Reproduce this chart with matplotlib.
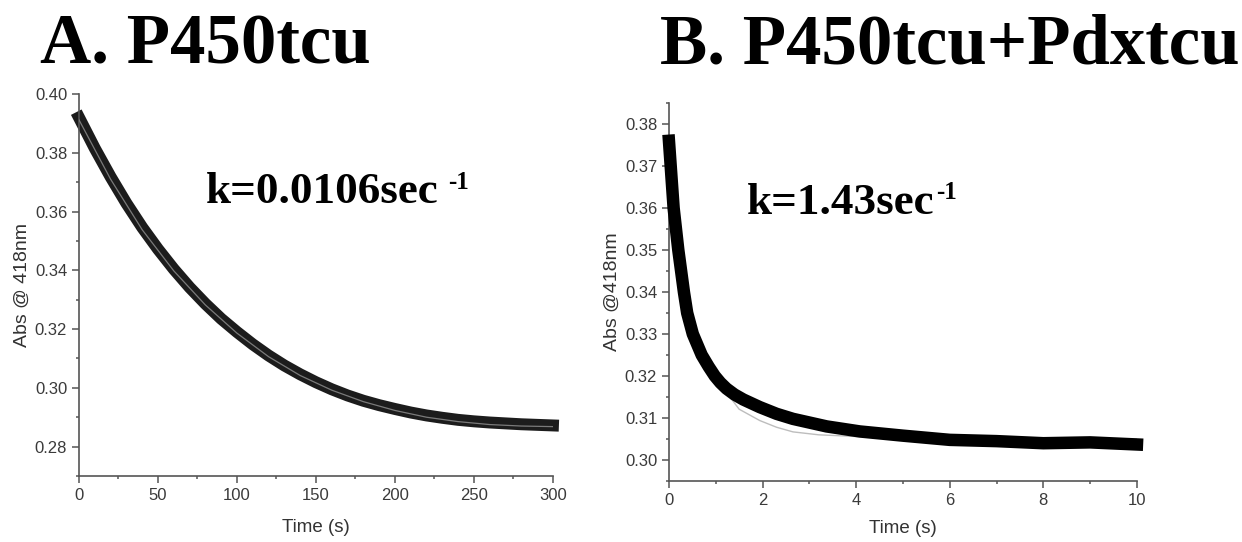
import matplotlib
matplotlib.use("Agg")
import matplotlib.pyplot as plt
from matplotlib.ticker import MultipleLocator, FormatStrFormatter

# panel A: P450tcu alone (band centre and fit line)
time_a = [0, 10, 20, 30, 40, 50, 60, 70, 80, 90, 100, 110, 120, 130, 140, 150,
          160, 170, 180, 190, 200, 210, 220, 230, 240, 250, 260, 270, 280, 290, 300]
abs_a = [0.3920, 0.3815, 0.3718, 0.3628, 0.3546, 0.3472, 0.3404, 0.3342, 0.3286,
         0.3235, 0.3190, 0.3148, 0.3110, 0.3076, 0.3046, 0.3019, 0.2995, 0.2974,
         0.2956, 0.2941, 0.2928, 0.2916, 0.2906, 0.2898, 0.2891, 0.2886, 0.2882,
         0.2879, 0.2876, 0.2874, 0.2872]
fit_time_a = [0, 20, 40, 60, 80, 100, 120, 140, 160, 180, 200, 220, 240, 260, 280, 300]
fit_abs_a = [0.3912, 0.3710, 0.3538, 0.3398, 0.3282, 0.3186, 0.3106, 0.3042, 0.2992,
             0.2953, 0.2923, 0.2900, 0.2885, 0.2875, 0.2870, 0.2868]

# panel B: P450tcu + Pdxtcu
time_b = [0, 0.05, 0.1, 0.15, 0.2, 0.26, 0.32, 0.39, 0.51, 0.7, 0.85, 0.98, 1.1,
          1.23, 1.4, 1.59, 1.94, 2.3, 2.65, 3.37, 4.08, 5, 6, 7, 8, 9, 10]
abs_b = [0.3760, 0.3680, 0.3600, 0.3550, 0.3500, 0.3450, 0.3400, 0.3350, 0.3300,
         0.3250, 0.3222, 0.3200, 0.3184, 0.3170, 0.3156, 0.3144, 0.3126, 0.3110,
         0.3098, 0.3080, 0.3068, 0.3058, 0.3048, 0.3045, 0.3040, 0.3042, 0.3037]
fit_time_b = [0, 0.1, 0.2, 0.3, 0.5, 0.7, 0.875, 1.2, 1.5, 1.94, 2.3, 2.65, 3.2, 4, 6, 8, 10]
fit_abs_b = [0.3740, 0.3620, 0.3510, 0.3430, 0.3310, 0.3255, 0.3222, 0.3165, 0.3121,
             0.3094, 0.3078, 0.3067, 0.3060, 0.3056, 0.3052, 0.3050, 0.3050]

titles = ["A. P450tcu", "B. P450tcu+Pdxtcu"]
k_texts = ["k=0.0106sec", "k=1.43sec"]
ylabels = ["Abs @ 418nm", "Abs @418nm"]

fig = plt.figure(figsize=(12.42, 5.42), dpi=100)
axA = fig.add_axes([0.0636, 0.1218, 0.3816, 0.7048])
axB = fig.add_axes([0.5386, 0.1125, 0.3768, 0.6975])

sans = "Liberation Sans"
serif = "Liberation Serif"
grey = "#555555"

def style(ax, ylab, labelpad_x):
    for s in ["top", "right"]:
        ax.spines[s].set_visible(False)
    for s in ["left", "bottom"]:
        ax.spines[s].set_color(grey)
        ax.spines[s].set_linewidth(1.2)
    ax.tick_params(which="major", length=5, width=1.1, color=grey, labelsize=12,
                   labelcolor="#3a3a3a", pad=3.5)
    ax.tick_params(which="minor", length=2.5, width=1.1, color=grey)
    for lab in ax.get_xticklabels() + ax.get_yticklabels():
        lab.set_family(sans)
    ax.set_xlabel("Time (s)", fontsize=13.5, family=sans, color="#333333",
                  labelpad=labelpad_x)
    ax.set_ylabel(ylab, fontsize=14, family=sans, color="#333333", labelpad=3)
    ax.yaxis.set_major_formatter(FormatStrFormatter("%.2f"))

# A: thick data band with the fit drawn inside it
axA.plot(time_a, abs_a, color="#1c1c1c", lw=8.6, solid_capstyle="projecting",
         solid_joinstyle="round", clip_on=False, zorder=2)
axA.plot(fit_time_a, fit_abs_a, color="#7a7a7a", lw=0.9, zorder=3)
axA.set_xlim(0, 300)
axA.set_ylim(0.27, 0.40)
axA.xaxis.set_major_locator(MultipleLocator(50))
axA.xaxis.set_minor_locator(MultipleLocator(25))
axA.yaxis.set_major_locator(MultipleLocator(0.02))
axA.yaxis.set_minor_locator(MultipleLocator(0.01))
style(axA, ylabels[0], 12)

# B: fit mostly hidden under the band
axB.plot(fit_time_b, fit_abs_b, color="#bdbdbd", lw=1.0, zorder=2)
axB.plot(time_b, abs_b, color="black", lw=9, solid_capstyle="projecting",
         solid_joinstyle="round", clip_on=False, zorder=3)
axB.set_xlim(0, 10)
axB.set_ylim(0.295, 0.385)
axB.xaxis.set_major_locator(MultipleLocator(2))
axB.xaxis.set_minor_locator(MultipleLocator(1))
axB.yaxis.set_major_locator(MultipleLocator(0.01))
axB.yaxis.set_minor_locator(MultipleLocator(0.005))
style(axB, ylabels[1], 9)

# rate constants with superscript
for ax, txt, pos, sup_y, gap in [(axA, k_texts[0], (0.268, 0.715), 0.752, 7),
                                 (axB, k_texts[1], (0.166, 0.706), 0.745, 1)]:
    t = ax.text(pos[0], pos[1], txt, transform=ax.transAxes, fontsize=32.5,
                fontweight="bold", family=serif, va="baseline", ha="left")
    ax.annotate("-1", xy=(1.0, sup_y), xycoords=(t, "axes fraction"),
                xytext=(gap, 0), textcoords="offset points", fontsize=18,
                fontweight="bold", family=serif, va="baseline", ha="left")

# panel titles
fig.text(0.0322, 0.882, titles[0], fontsize=51, fontweight="bold", family=serif,
         va="baseline", ha="left")
fig.text(0.5314, 0.882, titles[1], fontsize=51, fontweight="bold", family=serif,
         va="baseline", ha="left")

fig.savefig("out.png", dpi=100)
